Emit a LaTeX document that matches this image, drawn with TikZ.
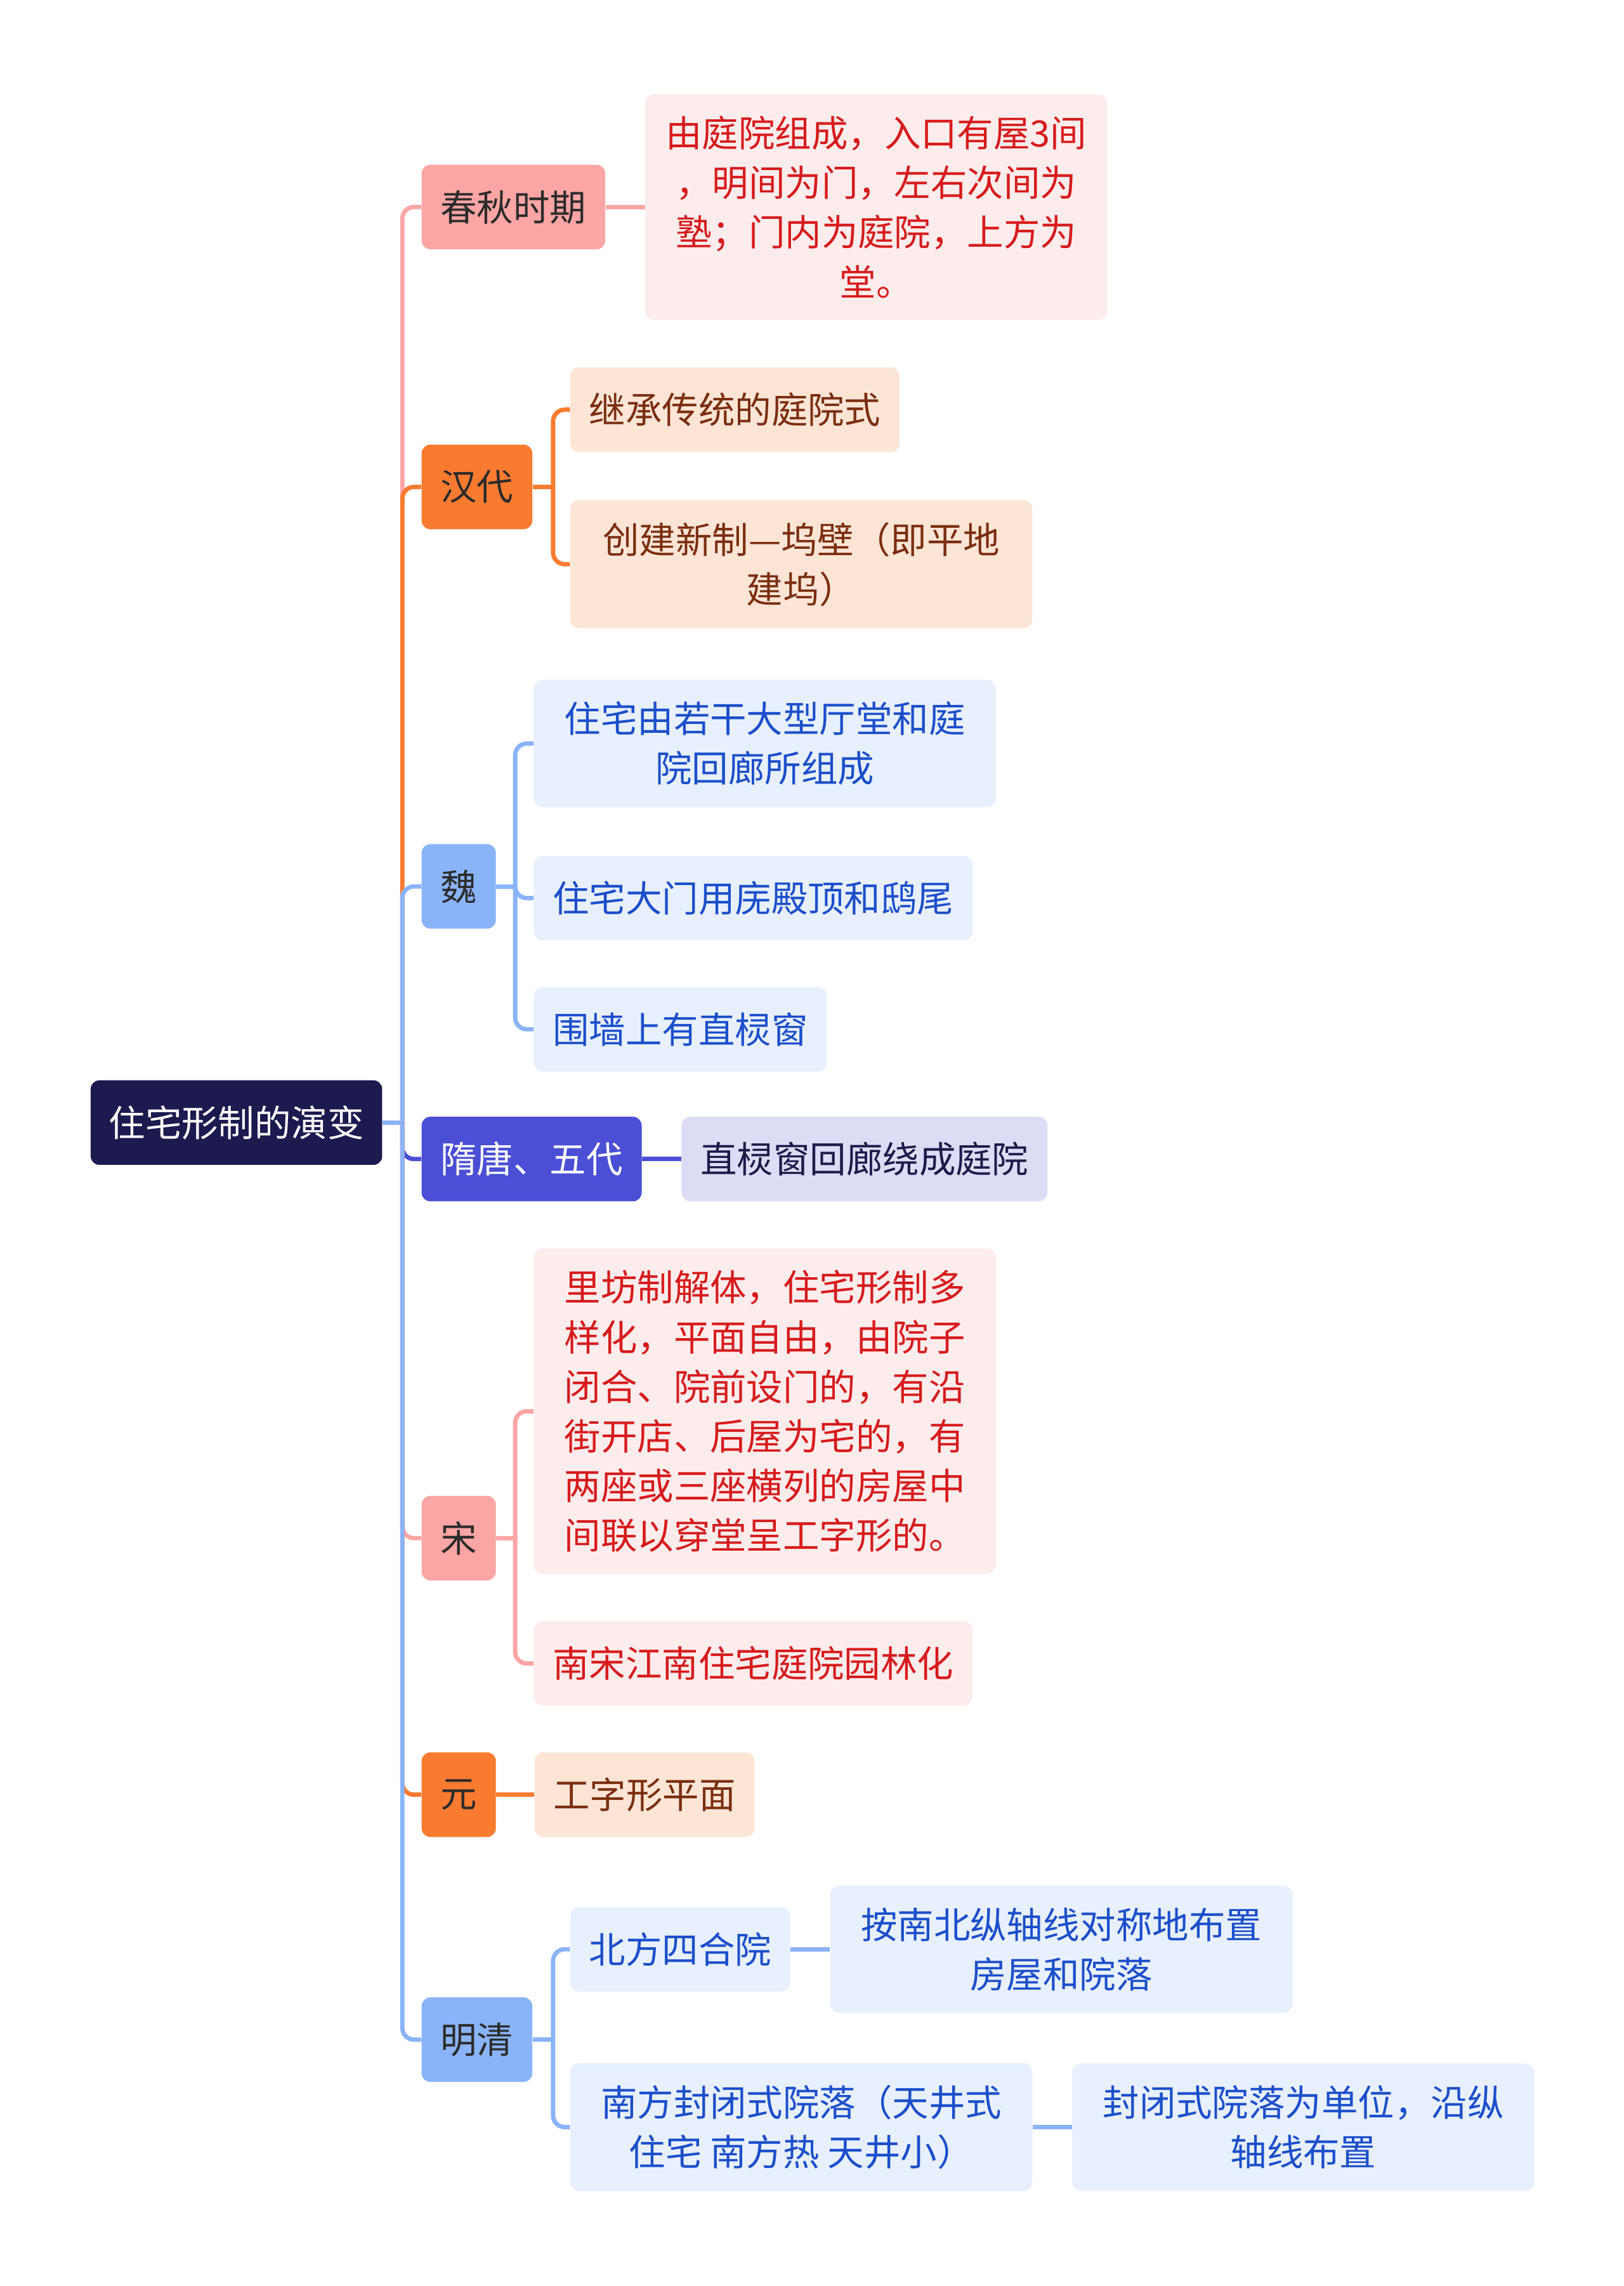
\documentclass[tikz,border=0pt]{standalone}
\usepackage{fontspec}
\newfontfamily\cjk{Noto Sans CJK SC}
\usetikzlibrary{positioning}
\definecolor{rootbg}{HTML}{1C1A4F}
\definecolor{pinkbg}{HTML}{FCA5A5}
\definecolor{pinksoft}{HTML}{FDECEC}
\definecolor{pinktext}{HTML}{D71A1A}
\definecolor{orangebg}{HTML}{F97B30}
\definecolor{peachsoft}{HTML}{FDE5D6}
\definecolor{browntext}{HTML}{7A2E0E}
\definecolor{bluebg}{HTML}{8AB4F8}
\definecolor{bluesoft}{HTML}{E8F0FD}
\definecolor{bluetext}{HTML}{1A4FCB}
\definecolor{indigobg}{HTML}{4A4FD6}
\definecolor{lavsoft}{HTML}{DCDDF5}
\definecolor{navytext}{HTML}{1E1B4B}
\definecolor{darktext}{HTML}{2B2B2B}
\begin{document}
\begin{tikzpicture}[x=1pt, y=-1pt, node distance=27pt,
  box/.style={rectangle, rounded corners=6pt, anchor=west, align=center,
    inner xsep=13pt, inner ysep=15pt, minimum height=58pt,
    font=\cjk\fontsize{25}{34}\selectfont},
  wide/.style={minimum width=317pt},
  rootbox/.style={box, fill=rootbg, text=white, inner xsep=12.5pt},
  pinkmain/.style={box, fill=pinkbg, text=darktext},
  orangemain/.style={box, fill=orangebg, text=darktext},
  bluemain/.style={box, fill=bluebg, text=darktext},
  indigomain/.style={box, fill=indigobg, text=white},
  pinksub/.style={box, fill=pinksoft, text=pinktext},
  peachsub/.style={box, fill=peachsoft, text=browntext},
  bluesub/.style={box, fill=bluesoft, text=bluetext},
  lavsub/.style={box, fill=lavsoft, text=navytext},
  link/.style={line width=3pt, rounded corners=8pt}]
  \fill[white] (0,0) rectangle (1114,1568);
  \useasboundingbox (0,0) rectangle (1114,1568);

  \node[rootbox] (root) at (62,770) {住宅形制的演变};

  \node[pinkmain] (chunqiu) at (289,142) {春秋时期};
  \node[pinksub, wide, right=of chunqiu] (chunqiu_d)
    {由庭院组成，入口有屋3间\\，明间为门，左右次间为\\塾；门内为庭院，上方为\\堂。};

  \node[orangemain] (handai) at (289,334) {汉代};
  \node[peachsub] (handai_a) at (391,281) {继承传统的庭院式};
  \node[peachsub, wide] (handai_b) at (391,387) {创建新制—坞壁（即平地\\建坞）};

  \node[bluemain] (wei) at (289,608) {魏};
  \node[bluesub, wide] (wei_a) at (366,510) {住宅由若干大型厅堂和庭\\院回廊所组成};
  \node[bluesub] (wei_b) at (366,616) {住宅大门用庑殿顶和鸱尾};
  \node[bluesub] (wei_c) at (366,706) {围墙上有直棂窗};

  \node[indigomain] (suitang) at (289,795) {隋唐、五代};
  \node[lavsub, right=of suitang] (suitang_d) {直棂窗回廊绕成庭院};

  \node[pinkmain] (song) at (289,1055) {宋};
  \node[pinksub, wide] (song_a) at (366,968)
    {里坊制解体，住宅形制多\\样化，平面自由，由院子\\闭合、院前设门的，有沿\\街开店、后屋为宅的，有\\两座或三座横列的房屋中\\间联以穿堂呈工字形的。};
  \node[pinksub] (song_b) at (366,1141) {南宋江南住宅庭院园林化};

  \node[orangemain] (yuan) at (289,1231) {元};
  \node[peachsub, right=26pt of yuan] (yuan_d) {工字形平面};

  \node[bluemain] (mingqing) at (289,1399) {明清};
  \node[bluesub] (north) at (391,1337) {北方四合院};
  \node[bluesub, wide, right=of north] (north_d) {按南北纵轴线对称地布置\\房屋和院落};
  \node[bluesub, wide] (south) at (391,1459) {南方封闭式院落（天井式\\住宅 南方热 天井小）};
  \node[bluesub, wide, right=of south] (south_d) {封闭式院落为单位，沿纵\\轴线布置};

  \coordinate (rootfork) at (276,770);
  \coordinate (hanfork) at ([xshift=14pt]handai.east);
  \coordinate (weifork) at ([xshift=13pt]wei.east);
  \coordinate (songfork) at ([xshift=13pt]song.east);
  \coordinate (mingfork) at ([xshift=14pt]mingqing.east);

  \draw[link, draw=bluebg] (root.east) -- (rootfork);
  \draw[link, draw=pinkbg] (rootfork) |- (chunqiu.west);
  \draw[link, draw=orangebg] (rootfork) |- (handai.west);
  \draw[link, draw=bluebg] (rootfork) |- (wei.west);
  \draw[link, draw=indigobg] (rootfork) |- (suitang.west);
  \draw[link, draw=pinkbg] (rootfork) |- (song.west);
  \draw[link, draw=orangebg] (rootfork) |- (yuan.west);
  \draw[link, draw=bluebg] (rootfork) |- (mingqing.west);

  \draw[link, draw=pinkbg] (chunqiu.east) -- (chunqiu_d.west);

  \draw[link, draw=orangebg] (handai.east) -- (hanfork);
  \draw[link, draw=orangebg] (hanfork) |- (handai_a.west);
  \draw[link, draw=orangebg] (hanfork) |- (handai_b.west);

  \draw[link, draw=bluebg] (wei.east) -- (weifork);
  \draw[link, draw=bluebg] (weifork) |- (wei_a.west);
  \draw[link, draw=bluebg] (weifork) |- (wei_b.west);
  \draw[link, draw=bluebg] (weifork) |- (wei_c.west);

  \draw[link, draw=indigobg] (suitang.east) -- (suitang_d.west);

  \draw[link, draw=pinkbg] (song.east) -- (songfork);
  \draw[link, draw=pinkbg] (songfork) |- (song_a.west);
  \draw[link, draw=pinkbg] (songfork) |- (song_b.west);

  \draw[link, draw=orangebg] (yuan.east) -- (yuan_d.west);

  \draw[link, draw=bluebg] (mingqing.east) -- (mingfork);
  \draw[link, draw=bluebg] (mingfork) |- (north.west);
  \draw[link, draw=bluebg] (mingfork) |- (south.west);
  \draw[link, draw=bluebg] (north.east) -- (north_d.west);
  \draw[link, draw=bluebg] (south.east) -- (south_d.west);
\end{tikzpicture}
\end{document}
